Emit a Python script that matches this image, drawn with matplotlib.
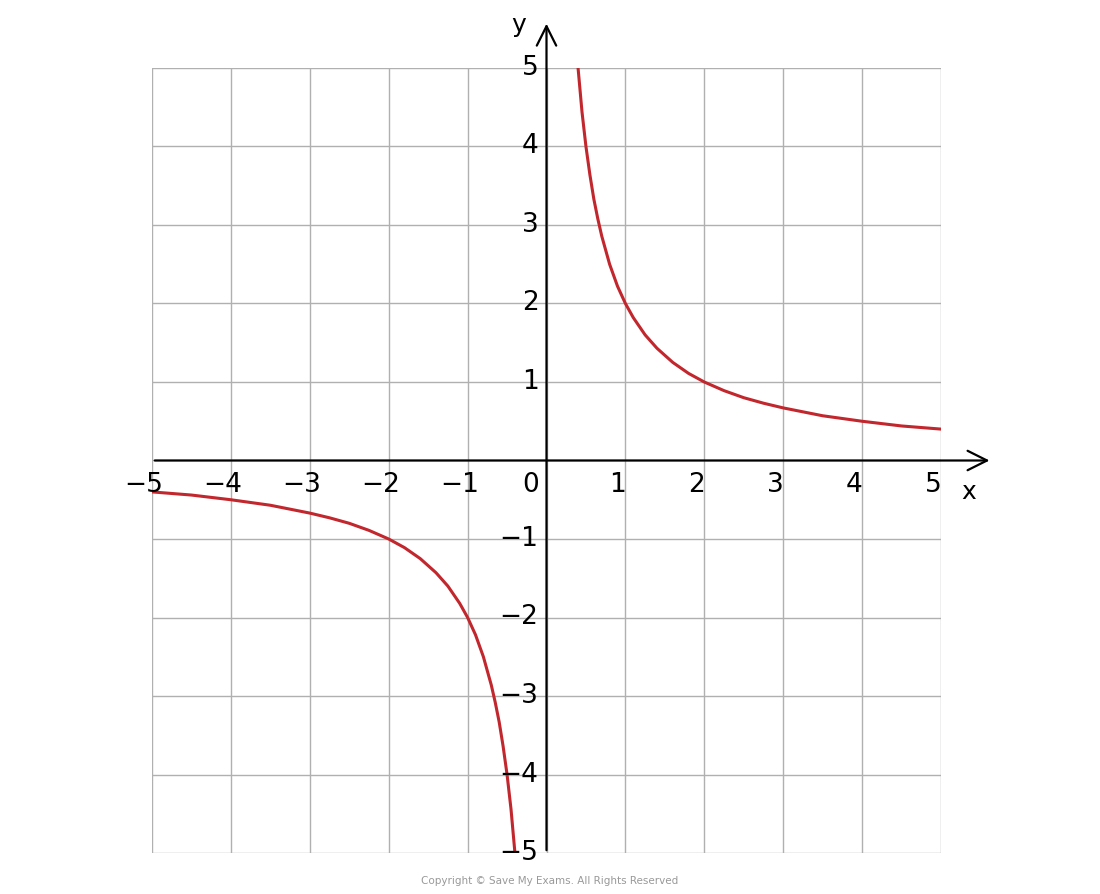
import matplotlib.pyplot as plt

# points
x_right = [0.4, 0.45, 0.5, 0.55, 0.6, 0.65, 0.7, 0.8, 0.9, 1.0, 1.1, 1.25, 1.4, 1.6, 1.8, 2.0,
           2.25, 2.5, 2.75, 3.0, 3.5, 4.0, 4.5, 5.0]
y_right = [5.0, 4.44, 4.0, 3.64, 3.33, 3.08, 2.86, 2.5, 2.22, 2.0, 1.82, 1.6, 1.43, 1.25, 1.11, 1.0,
           0.89, 0.8, 0.73, 0.67, 0.57, 0.5, 0.44, 0.4]
x_left = [-5.0, -4.5, -4.0, -3.5, -3.0, -2.75, -2.5, -2.25, -2.0, -1.8, -1.6, -1.4, -1.25, -1.1,
          -1.0, -0.9, -0.8, -0.7, -0.65, -0.6, -0.55, -0.5, -0.45, -0.4]
y_left = [-0.4, -0.44, -0.5, -0.57, -0.67, -0.73, -0.8, -0.89, -1.0, -1.11, -1.25, -1.43, -1.6, -1.82,
          -2.0, -2.22, -2.5, -2.86, -3.08, -3.33, -3.64, -4.0, -4.44, -5.0]
ticks = [-5, -4, -3, -2, -1, 1, 2, 3, 4, 5]

fig = plt.figure(figsize=(11, 8.94), dpi=100)
ax = fig.add_axes([152 / 1100, 41 / 894, 789 / 1100, 785 / 894])
ax.set_xlim(-5, 5)
ax.set_ylim(-5, 5)
ax.axis('off')

grid_c = '#b0b0b0'
for v in range(-5, 6):
    ax.plot([v, v], [-5, 5], color=grid_c, lw=1, zorder=1)
    ax.plot([-5, 5], [v, v], color=grid_c, lw=1, zorder=1)

arrow = dict(arrowstyle='->', color='black', lw=1.6, mutation_scale=35)
ax.annotate('', xy=(5.65, 0), xytext=(-5, 0), arrowprops=arrow, annotation_clip=False)
ax.annotate('', xy=(0, 5.6), xytext=(0, -5), arrowprops=arrow, annotation_clip=False)

red = '#c1272d'
ax.plot(x_right, y_right, color=red, lw=2.2, zorder=3)
ax.plot(x_left, y_left, color=red, lw=2.2, zorder=3)

for t in ticks:
    ax.text(t - 0.1, -0.15, '\u2212' + str(-t) if t < 0 else str(t), ha='center', va='top', fontsize=19)
    ax.text(-0.1, t, '\u2212' + str(-t) if t < 0 else str(t), ha='right', va='center', fontsize=19)
ax.text(-0.2, -0.15, '0', ha='center', va='top', fontsize=19)
ax.text(5.35, -0.25, 'x', ha='center', va='top', fontsize=18)
ax.text(-0.35, 5.55, 'y', ha='center', va='center', fontsize=18)

fig.text(0.5, 0.015, 'Copyright \u00a9 Save My Exams. All Rights Reserved', ha='center',
         va='center', fontsize=7.5, color='#999999')
fig.savefig('out.png', dpi=100)
